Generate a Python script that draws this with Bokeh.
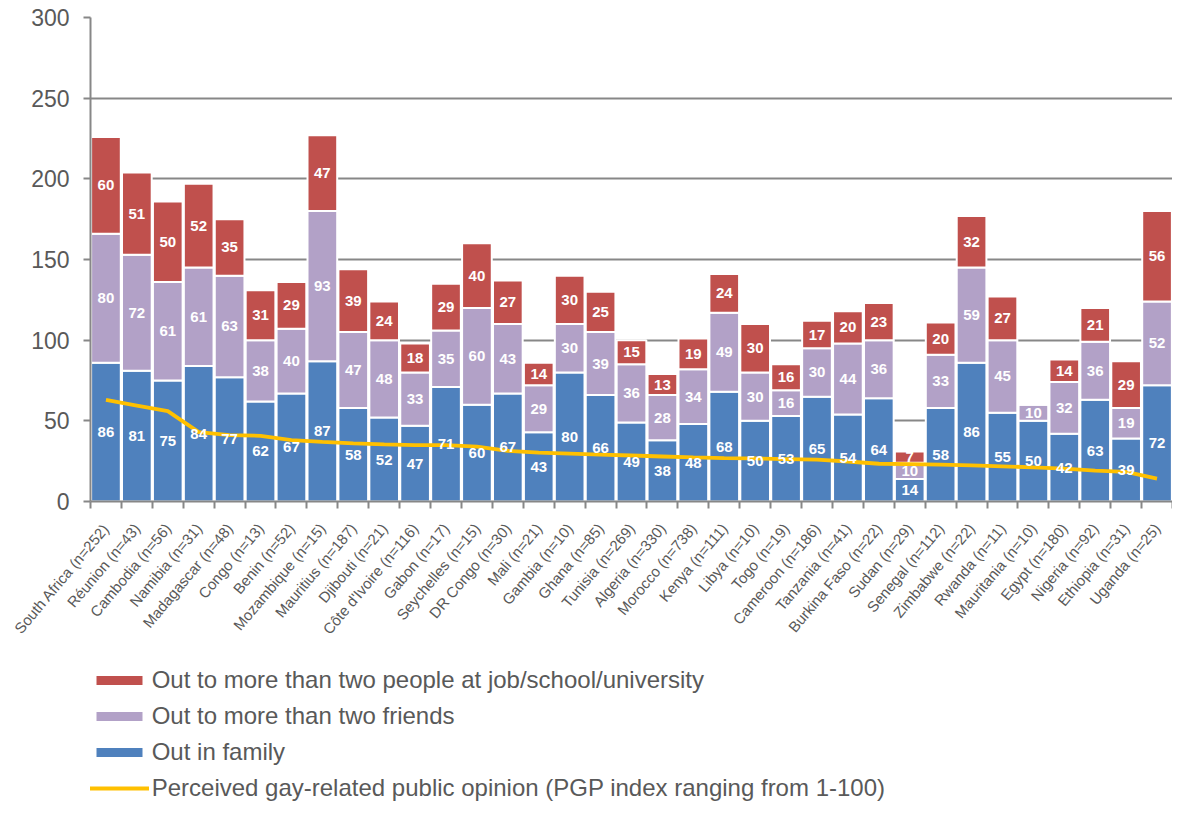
import math
from bokeh.plotting import figure
from bokeh.layouts import column
from bokeh.models import ColumnDataSource, FixedTicker, Legend, LegendItem, Range1d
from bokeh.core.properties import value
from bokeh.embed import file_html
from bokeh.resources import INLINE

countries = ["South Africa (n=252)", "Réunion (n=43)", "Cambodia (n=56)", "Namibia (n=31)",
             "Madagascar (n=48)", "Congo (n=13)", "Benin (n=52)", "Mozambique (n=15)",
             "Mauritius (n=187)", "Djibouti (n=21)", "Côte d'Ivoire (n=116)", "Gabon (n=17)",
             "Seychelles (n=15)", "DR Congo (n=30)", "Mali (n=21)", "Gambia (n=10)",
             "Ghana (n=85)", "Tunisia (n=269)", "Algeria (n=330)", "Morocco (n=738)",
             "Kenya (n=111)", "Libya (n=10)", "Togo (n=19)", "Cameroon (n=186)",
             "Tanzania (n=41)", "Burkina Faso (n=22)", "Sudan (n=29)", "Senegal (n=112)",
             "Zimbabwe (n=22)", "Rwanda (n=11)", "Mauritania (n=10)", "Egypt (n=180)",
             "Nigeria (n=92)", "Ethiopia (n=31)", "Uganda (n=25)"]
out_family = [86, 81, 75, 84, 77, 62, 67, 87, 58, 52, 47, 71, 60, 67, 43, 80, 66, 49, 38, 48,
              68, 50, 53, 65, 54, 64, 14, 58, 86, 55, 50, 42, 63, 39, 72]
out_friends = [80, 72, 61, 61, 63, 38, 40, 93, 47, 48, 33, 35, 60, 43, 29, 30, 39, 36, 28, 34,
               49, 30, 16, 30, 44, 36, 10, 33, 59, 45, 10, 32, 36, 19, 52]
out_job = [60, 51, 50, 52, 35, 31, 29, 47, 39, 24, 18, 29, 40, 27, 14, 30, 25, 15, 13, 19,
           24, 30, 16, 17, 20, 23, 7, 20, 32, 27, 0, 14, 21, 29, 56]
pgp_index = [63, 59.5, 56, 43, 41.2, 40.7, 38.1, 37, 36, 35.4, 35, 35, 34, 31.4, 30.3, 29.7,
             29.1, 28.5, 27.9, 27.3, 26.9, 26.7, 26.3, 25.9, 24.8, 23.4, 23.2, 22.8, 22.4,
             21.8, 21.2, 20.4, 19.1, 18.3, 14.2]
y_ticks = [0, 50, 100, 150, 200, 250, 300]

legend_labels = ["Out to more than two people at job/school/university",
                 "Out to more than two friends",
                 "Out in family",
                 "Perceived gay-related public opinion (PGP index ranging from 1-100)"]

FONT = value("Liberation Sans")
GREY_TXT = "#595959"
GREY_LINE = "#878787"
C_FAM, C_FRI, C_JOB, C_PGP = "#4F81BD", "#B2A1C7", "#C0504D", "#FFC000"

n = len(countries)
centers = [i + 0.5 for i in range(n)]
bounds = list(range(n + 1))

W = 1172
p = figure(width=W, height=645, output_backend="svg", toolbar_location=None,
           x_range=Range1d(0, n), y_range=Range1d(0, 300),
           min_border_left=90, min_border_right=0, min_border_top=17, min_border_bottom=138)
p.outline_line_color = None
p.xgrid.grid_line_color = None
p.ygrid.grid_line_color = GREY_LINE
p.ygrid.grid_line_width = 2
p.ygrid.ticker = FixedTicker(ticks=y_ticks)

src = ColumnDataSource(dict(x=centers, family=out_family, friends=out_friends, job=out_job))
bar_style = dict(line_color="white", line_width=2)
stack_cols = ["family", "friends", "job"]
stack_colors = [C_FAM, C_FRI, C_JOB]
rs = p.vbar_stack(stack_cols, x="x", width=0.96, source=src, fill_color=stack_colors, **bar_style)

p.line(centers, pgp_index, line_color=C_PGP, line_width=3.8)

lx, ly, lt = [], [], []
for i in range(n):
    base = 0
    for v in (out_family[i], out_friends[i], out_job[i]):
        if v > 0:
            lx.append(centers[i])
            ly.append(base + v / 2)
            lt.append(str(v))
        base += v
p.text(x=lx, y=ly, text=lt, text_color="white", text_font=FONT, text_font_style="bold",
       text_font_size="15px", text_align="center", text_baseline="middle")

# y axis
p.yaxis.ticker = FixedTicker(ticks=y_ticks)
p.yaxis.major_label_text_font = "Liberation Sans"
p.yaxis.major_label_text_font_size = "23px"
p.yaxis.major_label_text_color = GREY_TXT
p.yaxis.axis_line_color = GREY_LINE
p.yaxis.axis_line_width = 2
p.yaxis.major_tick_line_color = GREY_LINE
p.yaxis.major_tick_line_width = 2
p.yaxis.major_tick_out = 7
p.yaxis.major_tick_in = 0
p.yaxis.minor_tick_line_color = None
p.yaxis.major_label_standoff = 14

# x axis
p.xaxis.ticker = FixedTicker(ticks=centers, minor_ticks=bounds)
p.xaxis.major_label_overrides = {c: name for c, name in zip(centers, countries)}
p.xaxis.major_label_orientation = math.radians(50)
p.xaxis.major_label_text_font = "Liberation Sans"
p.xaxis.major_label_text_font_size = "15px"
p.xaxis.major_label_text_color = GREY_TXT
p.xaxis.major_label_standoff = 17
p.xaxis.axis_line_color = GREY_LINE
p.xaxis.axis_line_width = 2
p.xaxis.major_tick_out = 0
p.xaxis.major_tick_in = 0
p.xaxis.major_tick_line_color = None
p.xaxis.minor_tick_line_color = GREY_LINE
p.xaxis.minor_tick_line_width = 2
p.xaxis.minor_tick_out = 7
p.xaxis.minor_tick_in = 0

# legend panel: a second figure whose ranges keep its own copies of the series out of view,
# so only the legend itself is visible below the chart
q = figure(width=W, height=156, output_backend="svg", toolbar_location=None,
           x_range=Range1d(-3, -2), y_range=Range1d(0, 1),
           x_axis_location=None, y_axis_location=None,
           min_border_left=0, min_border_right=0, min_border_top=0, min_border_bottom=0)
q.outline_line_color = None
q.grid.visible = False
qs = q.vbar_stack(stack_cols, x="x", width=0.96, source=src, fill_color=stack_colors, **bar_style)
ql = q.line(centers, pgp_index, line_color=C_PGP, line_width=3.8)

legend = Legend(items=[LegendItem(label=legend_labels[0], renderers=[qs[2]]),
                       LegendItem(label=legend_labels[1], renderers=[qs[1]]),
                       LegendItem(label=legend_labels[2], renderers=[qs[0]]),
                       LegendItem(label=legend_labels[3], renderers=[ql])],
                location=(-1.3, -1), orientation="vertical",
                label_text_font="Liberation Sans", label_text_font_size="24px",
                label_text_color=GREY_TXT, glyph_width=60, glyph_height=14,
                label_height=28, label_standoff=3, spacing=8, padding=0, margin=0,
                border_line_color=None, background_fill_alpha=0)
q.add_layout(legend)

open("out.html", "w").write(file_html(column(p, q, spacing=0), INLINE))
